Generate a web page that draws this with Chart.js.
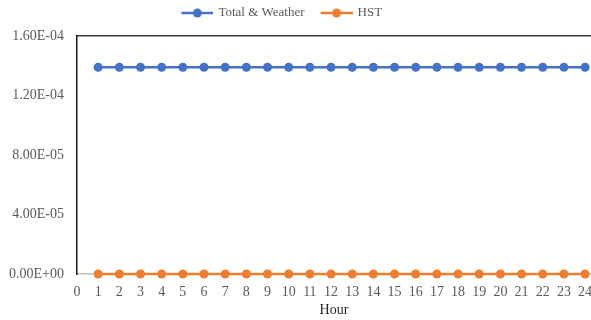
<!DOCTYPE html>
<html>
<head>
<meta charset="utf-8">
<style>
  html, body { margin: 0; padding: 0; background: #ffffff; }
  #wrap { width: 591px; height: 320px; }
</style>
<script src="https://cdn.jsdelivr.net/npm/chart.js@4/dist/chart.umd.min.js"></script>
</head>
<body>
<div id="wrap"><canvas id="c" width="591" height="320"></canvas></div>
<script>
// ---- data ----
const hours = [1,2,3,4,5,6,7,8,9,10,11,12,13,14,15,16,17,18,19,20,21,22,23,24];
const totalWeather = [1.39e-4,1.39e-4,1.39e-4,1.39e-4,1.39e-4,1.39e-4,1.39e-4,1.39e-4,1.39e-4,1.39e-4,1.39e-4,1.39e-4,
                      1.39e-4,1.39e-4,1.39e-4,1.39e-4,1.39e-4,1.39e-4,1.39e-4,1.39e-4,1.39e-4,1.39e-4,1.39e-4,1.39e-4];
const hst = [0,0,0,0,0,0,0,0,0,0,0,0,0,0,0,0,0,0,0,0,0,0,0,0];
const xTickValues = [0,1,2,3,4,5,6,7,8,9,10,11,12,13,14,15,16,17,18,19,20,21,22,23,24];
const yTickValues = [0, 4e-5, 8e-5, 1.2e-4, 1.6e-4];
const seriesNames = ['Total & Weather', 'HST'];
const seriesColors = ['#4472C4', '#ED7D31'];

function fmtSci(v) {
  const parts = Number(v).toExponential(2).split('e');
  const sign = parts[1][0] === '-' ? '-' : '+';
  const digits = parts[1].replace(/^[+-]/, '').padStart(2, '0');
  return parts[0] + 'E' + sign + digits;
}

function legendImage(color) {
  const c = document.createElement('canvas');
  c.width = 43; c.height = 12;
  const g = c.getContext('2d');
  g.strokeStyle = color; g.lineWidth = 2.5;
  g.beginPath(); g.moveTo(11, 6); g.lineTo(43, 6); g.stroke();
  g.fillStyle = color;
  g.beginPath(); g.arc(27, 6, 4.5, 0, Math.PI * 2); g.fill();
  return c;
}
const legendImgs = seriesColors.map(legendImage);

const serif = "'Liberation Serif', 'Times New Roman', serif";
const xMax = 24.28;

const legendShift = {
  id: 'legendShift',
  afterLayout(chart) {
    if (chart.legend) { chart.legend.left -= 37; }
  }
};

new Chart(document.getElementById('c'), {
  type: 'line',
  data: {
    datasets: [
      {
        label: seriesNames[0],
        data: hours.map((h, i) => ({ x: h, y: totalWeather[i] })),
        borderColor: seriesColors[0], backgroundColor: seriesColors[0],
        borderWidth: 2.5, pointRadius: 4.5, pointBorderWidth: 0,
        pointBackgroundColor: seriesColors[0], tension: 0, clip: false
      },
      {
        label: seriesNames[1],
        data: hours.map((h, i) => ({ x: h, y: hst[i] })),
        borderColor: seriesColors[1], backgroundColor: seriesColors[1],
        borderWidth: 2.5, pointRadius: 4.5, pointBorderWidth: 0,
        pointBackgroundColor: seriesColors[1], tension: 0, clip: false
      }
    ]
  },
  options: {
    responsive: false,
    animation: false,
    devicePixelRatio: 1,
    layout: { padding: 0, autoPadding: false },
    plugins: {
      tooltip: { enabled: false },
      legend: {
        display: true,
        position: 'top',
        align: 'center',
        labels: {
          usePointStyle: true,
          pointStyleWidth: 40,
          padding: 6.5,
          color: '#595959',
          font: { family: serif, size: 13 },
          generateLabels(chart) {
            return chart.data.datasets.map((ds, i) => ({
              text: ds.label,
              fillStyle: ds.borderColor,
              strokeStyle: ds.borderColor,
              pointStyle: legendImgs[i],
              lineWidth: 0,
              hidden: false,
              datasetIndex: i,
              fontColor: '#595959'
            }));
          }
        }
      }
    },
    scales: {
      x: {
        type: 'linear',
        position: 'bottom',
        min: 0, max: xMax,
        afterBuildTicks(s) { s.ticks = xTickValues.map(v => ({ value: v })); },
        afterFit(s) { s.height = 46; s.paddingLeft = 0; s.paddingRight = 0; },
        grid: { display: false, drawTicks: false },
        border: { display: true, color: '#BFBFBF', width: 1.5 },
        ticks: {
          autoSkip: false, maxRotation: 0, padding: 10,
          color: '#595959', font: { family: serif, size: 14 },
          callback: v => String(v)
        },
        title: {
          display: true, text: 'Hour', color: '#262626',
          font: { family: serif, size: 14 },
          padding: { top: 0, bottom: 1 }
        }
      },
      xTop: {
        type: 'linear',
        position: 'top',
        min: 0, max: xMax,
        afterFit(s) { s.height = 6.5; s.paddingLeft = 0; s.paddingRight = 0; },
        grid: { display: false, drawTicks: false },
        border: { display: true, color: '#3a3a3a', width: 1.5 },
        ticks: { display: false }
      },
      y: {
        type: 'linear',
        min: 0, max: 1.6e-4,
        afterBuildTicks(s) { s.ticks = yTickValues.map(v => ({ value: v })); },
        afterFit(s) { s.width = 77; },
        grid: { display: false, drawTicks: false },
        border: { display: true, color: '#1a1a1a', width: 1.5 },
        ticks: {
          padding: 13,
          color: '#595959', font: { family: serif, size: 14 },
          callback: v => fmtSci(v)
        }
      }
    }
  },
  plugins: [legendShift]
});
</script>
</body>
</html>
